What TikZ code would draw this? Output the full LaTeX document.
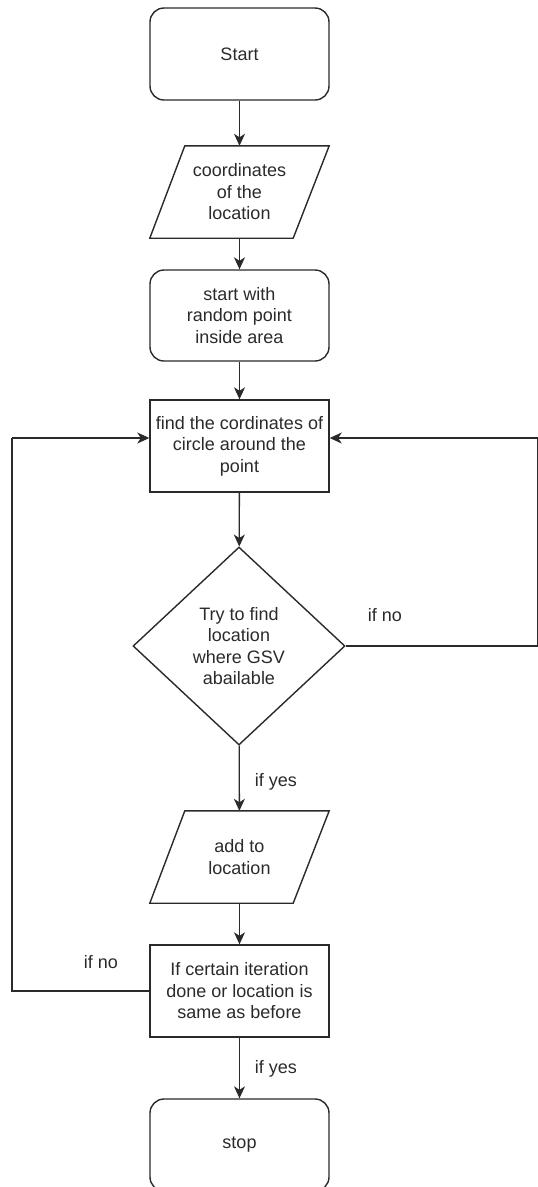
\documentclass[tikz,border=0pt]{standalone}
\usepackage{fontspec}
\setmainfont{Liberation Sans}
\usetikzlibrary{shapes.geometric,arrows.meta,calc}
\definecolor{ink}{HTML}{2A2A2A}
\begin{document}
\begin{tikzpicture}[x=1pt,y=-1pt,
  every node/.style={font=\fontsize{18}{21.5}\selectfont, text=ink, align=center},
  boxbase/.style={minimum width=179pt, inner sep=0pt},
  roundbox/.style={boxbase, draw=ink, line width=1.4pt, rounded corners=14pt},
  plainbox/.style={boxbase, draw=ink, line width=1.4pt},
  iobox/.style={boxbase},
  decision/.style={diamond, draw=ink, line width=1.4pt, inner sep=0pt,
    minimum width=212pt, minimum height=198pt, shape aspect=1.07},
  lbl/.style={inner sep=0pt},
  flow/.style={draw=ink, line width=1.3pt, -{Stealth[length=12pt,width=11pt,inset=3.5pt]}},
  link/.style={draw=ink, line width=1.3pt}
]
\useasboundingbox (0,0) rectangle (538,1187);

\node[roundbox, minimum height=92pt] (start) at (239.5,54) {Start};
\node[iobox, minimum height=92pt] (coords) at (239.5,192) {coordinates\\of the\\location};
\draw[draw=ink, line width=1.4pt] ($(coords.north west)+(35,0)$) -- (coords.north east)
  -- ($(coords.south east)+(-36,0)$) -- (coords.south west) -- cycle;
\node[roundbox, minimum height=91pt] (rand) at (239.5,315.5) {start with\\random point\\inside area};
\node[plainbox, minimum height=92pt] (circ) at (239.5,446) {find the cordinates of\\circle around the\\point};
\node[decision] (dec) at (239,646) {Try to find\\location\\where GSV\\abailable};
\node[iobox, minimum height=92pt] (add) at (239.5,857) {add to\\location};
\draw[draw=ink, line width=1.4pt] ($(add.north west)+(35,0)$) -- (add.north east)
  -- ($(add.south east)+(-36,0)$) -- (add.south west) -- cycle;
\node[plainbox, minimum height=92pt] (iter) at (239.5,991) {If certain iteration\\done or location is\\same as before};
\node[roundbox, minimum height=92pt] (stop) at (239.5,1145) {stop};

\node[lbl] (noR) at (385,615) {if no};
\node[lbl] (yes1) at (276,782) {if yes};
\node[lbl] (noL) at (101,962) {if no};
\node[lbl] (yes2) at (276,1069) {if yes};

\coordinate (rtop) at (538,438);
\coordinate (rbot) at (538,646);
\coordinate (ltop) at (12,438);
\coordinate (lbot) at (12,991);

\draw[flow] (start) -- (coords);
\draw[flow] (coords) -- (rand);
\draw[flow] (rand) -- (circ);
\draw[flow] (circ) -- (dec);
\draw[flow] (dec) -- (add);
\draw[flow] (add) -- (iter);
\draw[flow] (iter) -- (stop);
\draw[link] (dec.east) -- (rbot) -- (rtop);
\draw[flow] (rtop) -- ([yshift=8pt]circ.east);
\draw[link] (iter.west) -- (lbot) -- (ltop);
\draw[flow] (ltop) -- ([yshift=8pt]circ.west);
\end{tikzpicture}
\end{document}
